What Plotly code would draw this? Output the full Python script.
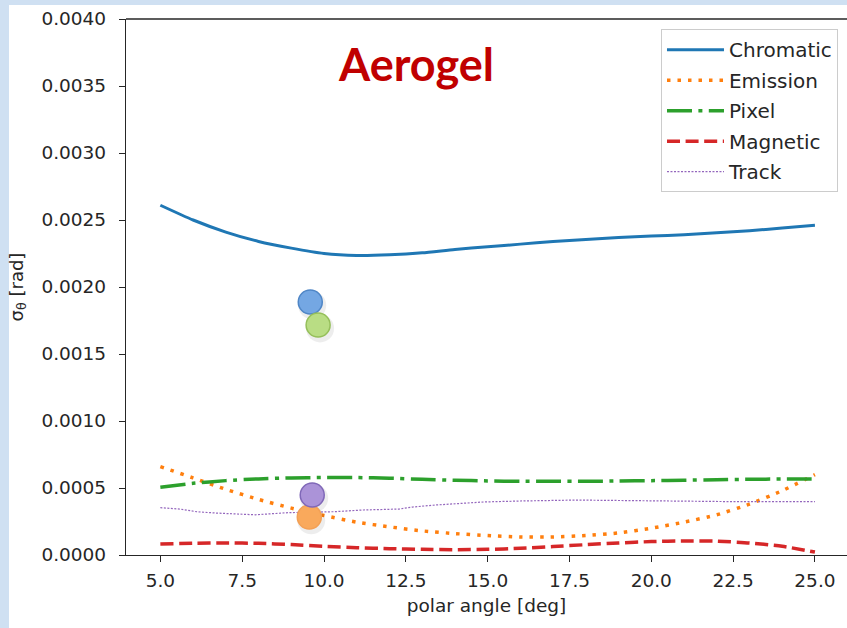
import plotly.graph_objects as go

# ---- data ----
angle = [5, 6, 7, 8, 9, 10, 11, 12, 13, 14, 15, 16, 17, 18, 19, 20, 21, 22, 23, 24, 25]
chromatic = [2.61, 2.50, 2.41, 2.34, 2.29, 2.25, 2.235, 2.24, 2.255, 2.28, 2.30, 2.32, 2.34,
             2.355, 2.37, 2.38, 2.39, 2.405, 2.42, 2.44, 2.46]
emission = [0.66, 0.575, 0.49, 0.415, 0.35, 0.295, 0.245, 0.21, 0.18, 0.16, 0.145, 0.135, 0.135,
            0.145, 0.165, 0.20, 0.245, 0.30, 0.38, 0.48, 0.60]
pixel = [0.505, 0.535, 0.555, 0.568, 0.575, 0.578, 0.578, 0.573, 0.565, 0.558, 0.553, 0.55, 0.55,
         0.55, 0.552, 0.555, 0.558, 0.562, 0.565, 0.567, 0.567]
magnetic = [0.082, 0.088, 0.09, 0.087, 0.078, 0.065, 0.055, 0.047, 0.042, 0.04, 0.042, 0.05, 0.063,
            0.077, 0.09, 0.10, 0.105, 0.103, 0.09, 0.065, 0.022]
track_x = [5, 5.6, 6.1, 6.7, 7.9, 8.9, 10.3, 11.2, 12.3, 12.7, 13.4, 14.2, 14.9, 16.0, 17.7, 22.6, 25]
track = [0.353, 0.343, 0.323, 0.313, 0.30, 0.316, 0.323, 0.336, 0.343, 0.358, 0.373, 0.388, 0.396,
         0.403, 0.41, 0.398, 0.398]

dot_x = [9.58, 9.82, 9.55, 9.64]
dot_y = [1.888, 1.716, 0.284, 0.448]
dot_fill = ["#74a7e3", "#b9dd84", "#f9a95c", "#ab93d8"]
dot_edge = ["#4f86c6", "#95bf5a", "#f3a055", "#8068b8"]

tick_vals_x = [5.0, 7.5, 10.0, 12.5, 15.0, 17.5, 20.0, 22.5, 25.0]
tick_vals_y = [0.0, 0.0005, 0.0010, 0.0015, 0.0020, 0.0025, 0.0030, 0.0035, 0.0040]

scale = 1e-3
FONT = "DejaVu Sans"

fig = go.Figure()

series = [
    ("Chromatic", angle, chromatic, dict(color="#1f77b4", width=3, dash="solid")),
    ("Emission", angle, emission, dict(color="#ff7f0e", width=3.5, dash="3.5px,7px")),
    ("Pixel", angle, pixel, dict(color="#2ca02c", width=3.5, dash="25px,6.4px,4px,6.4px")),
    ("Magnetic", angle, magnetic, dict(color="#d62728", width=3.5, dash="13px,5.6px")),
    ("Track", track_x, track, dict(color="#9467bd", width=1.2, dash="2px,1.5px")),
]
for name, xs, ys, ln in series:
    fig.add_trace(go.Scatter(x=xs, y=[v * scale for v in ys], mode="lines", name=name,
                             line=dict(shape="spline" if name != "Track" else "linear",
                                       smoothing=0.6, **ln),
                             legendgroup=name))

# soft shadows
fig.add_trace(go.Scatter(x=[v + 0.06 for v in dot_x], y=[(v - 0.025) * scale for v in dot_y],
                         mode="markers", showlegend=False, hoverinfo="skip",
                         marker=dict(size=28, color="rgba(0,0,0,0.07)", line=dict(width=0))))
for i in range(len(dot_x)):
    fig.add_trace(go.Scatter(x=[dot_x[i]], y=[dot_y[i] * scale], mode="markers", showlegend=False,
                             marker=dict(size=24, color=dot_fill[i],
                                         line=dict(color=dot_edge[i], width=1.5))))

# white panel over the light-blue page
fig.add_shape(type="rect", xref="paper", yref="paper", x0=-0.1623, x1=1.2, y0=-0.2, y1=1.0261,
              fillcolor="white", line=dict(width=0), layer="below")

fig.add_annotation(text="<b>Aerogel</b>", xref="paper", yref="paper", x=0.402, y=0.9706,
                   showarrow=False, font=dict(family="Lato", size=45, color="#c00000"))

axis_common = dict(showgrid=False, zeroline=False, showline=True, linecolor="#262626", linewidth=1.3,
                   ticks="outside", ticklen=6, tickwidth=1.2, tickcolor="#262626",
                   tickfont=dict(family=FONT, size=18.5, color="#262626"), mirror=False)

fig.update_xaxes(range=[3.95, 25.98], tickvals=tick_vals_x, tickformat=".1f",
                 title=dict(text="polar angle [deg]", font=dict(family=FONT, size=18.5, color="#262626"),
                            standoff=8),
                 ticklabelstandoff=3, **axis_common)
fig.update_yaxes(range=[0, 0.004], tickvals=tick_vals_y, tickformat=".4f",
                 title=dict(text="σ<sub>θ</sub> [rad]", font=dict(family=FONT, size=18, color="#262626"),
                            standoff=13),
                 ticklabelstandoff=9, **axis_common)

# top spine
fig.add_shape(type="line", xref="paper", yref="paper", x0=0, x1=1.05, y0=1, y1=1,
              line=dict(color="#262626", width=1.3))

fig.update_layout(
    width=847, height=628,
    margin=dict(l=126, r=0, t=19, b=73),
    paper_bgcolor="#cfe0f2", plot_bgcolor="white",
    font=dict(family=FONT, size=18, color="#262626"),
    legend=dict(x=0.9875, y=0.981, xanchor="right", yanchor="top",
                bgcolor="rgba(255,255,255,0.9)", bordercolor="#cccccc", borderwidth=1,
                font=dict(family=FONT, size=20, color="#262626"),
                traceorder="grouped", tracegroupgap=1.5, itemwidth=57),
    showlegend=True,
)

fig.write_html("out.html")
